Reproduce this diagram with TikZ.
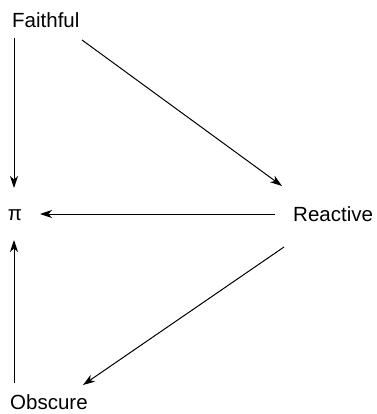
\documentclass[tikz,border=0pt]{standalone}
\usepackage{fontspec}
\setmainfont{Liberation Sans}
\usetikzlibrary{arrows.meta}
\begin{document}
\begin{tikzpicture}[x=1pt,y=-1pt,
  lbl/.style={inner sep=0pt,font=\fontsize{20.5}{24}\selectfont},
  arr/.style={-{Stealth[length=12pt,width=8pt,inset=3.5pt]},line width=1pt}]
\useasboundingbox (0,0) rectangle (376,414);
\node[lbl,anchor=west] (f) at (12,20) {Faithful};
\node[lbl] (p) at (15,215) {π};
\node[lbl,anchor=west] (r) at (293,214) {Reactive};
\node[lbl,anchor=west] (o) at (10,402) {Obscure};
\coordinate (f1) at (14,38);
\coordinate (f2) at (82,40);
\coordinate (p1) at (14,188);
\coordinate (p2) at (40,214);
\coordinate (p3) at (14,240);
\coordinate (r1) at (282,186);
\coordinate (r2) at (275,214);
\coordinate (r3) at (284,247);
\coordinate (o1) at (83,385);
\coordinate (o2) at (14,383);
\draw[arr] (f1) -- (p1);
\draw[arr] (f2) -- (r1);
\draw[arr] (r2) -- (p2);
\draw[arr] (r3) -- (o1);
\draw[arr] (o2) -- (p3);
\end{tikzpicture}
\end{document}
